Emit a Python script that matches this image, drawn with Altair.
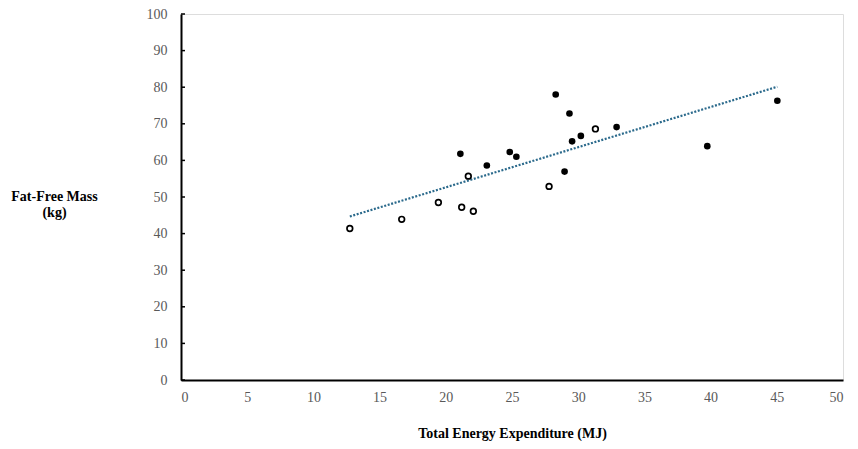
import altair as alt
import pandas as pd

# Open circles
open_tee = [12.75, 16.67, 19.44, 21.2, 21.7, 22.08, 27.8, 31.3]
open_ffm = [41.4, 43.9, 48.5, 47.2, 55.7, 46.1, 52.9, 68.6]
# Filled circles
filled_tee = [21.1, 23.1, 24.83, 25.33, 28.3, 29.34, 29.54, 30.2, 28.97, 32.9, 39.75, 45.04]
filled_ffm = [61.8, 58.6, 62.3, 61.0, 78.0, 72.8, 65.2, 66.7, 56.95, 69.1, 63.9, 76.3]

y_ticks = [0, 10, 20, 30, 40, 50, 60, 70, 80, 90, 100]
x_ticks = [0, 5, 10, 15, 20, 25, 30, 35, 40, 45, 50]

df = pd.DataFrame({
    "tee": open_tee + filled_tee,
    "ffm": open_ffm + filled_ffm,
    "grp": ["open"] * len(open_tee) + ["filled"] * len(filled_tee),
})
ticks_df = pd.DataFrame({"t": y_ticks})

FONT = "Liberation Serif"

xscale = alt.Scale(domain=[0, 50], nice=False, zero=True)
yscale = alt.Scale(domain=[0, 100], nice=False, zero=True)

xaxis = alt.Axis(
    values=x_ticks, ticks=False, tickSize=0, grid=False, domain=True,
    domainColor="black", domainWidth=2, labelPadding=10, labelFont=FONT,
    labelFontSize=14, labelColor="#595959", labelOverlap=False,
    title="Total Energy Expenditure (MJ)", titleFont=FONT, titleFontSize=14,
    titleFontWeight="bold", titleColor="black", titleBaseline="alphabetic",
    titleY=57,
)
yaxis = alt.Axis(
    values=y_ticks, ticks=False, tickSize=0, grid=False, domain=True,
    domainColor="black", domainWidth=2, labelPadding=14, labelFont=FONT,
    labelFontSize=14, labelColor="#595959", labelOverlap=False,
    title=["Fat-Free Mass", "(kg)"], titleFont=FONT, titleFontSize=14,
    titleFontWeight="bold", titleColor="black", titleAngle=0,
    titleAlign="center", titleBaseline="alphabetic", titleLineHeight=16,
    titleX=-127, titleY=186,
)

base = alt.Chart(df)

yticks = alt.Chart(ticks_df).mark_rule(color="black", strokeWidth=1.5).encode(
    y=alt.Y("t:Q", scale=yscale, axis=yaxis),
    x=alt.value(0),
    x2=alt.value(4),
)

trend = base.transform_regression("tee", "ffm").mark_line(
    color="#2B6A8C", strokeWidth=2.2, strokeDash=[2, 1.6]
).encode(
    x=alt.X("tee:Q", scale=xscale, axis=xaxis),
    y=alt.Y("ffm:Q", scale=yscale, axis=yaxis),
)

filled = base.transform_filter(alt.datum.grp == "filled").mark_point(
    shape="circle", filled=True, color="black", size=44, opacity=1
).encode(
    x=alt.X("tee:Q", scale=xscale, axis=xaxis),
    y=alt.Y("ffm:Q", scale=yscale, axis=yaxis),
)

opened = base.transform_filter(alt.datum.grp == "open").mark_point(
    shape="circle", filled=False, fill="white", fillOpacity=1, stroke="black",
    strokeWidth=1.7, size=32, opacity=1
).encode(
    x=alt.X("tee:Q", scale=xscale, axis=xaxis),
    y=alt.Y("ffm:Q", scale=yscale, axis=yaxis),
)

chart = alt.layer(yticks, trend, filled, opened).properties(
    width=662,
    height=366,
    autosize=alt.AutoSizeParams(type="none"),
    padding={"left": 173, "top": 6, "right": 7, "bottom": 61},
).configure_view(stroke=None).configure(background="white")

chart.save("out.html", embed_options={"renderer": "svg", "actions": False})
